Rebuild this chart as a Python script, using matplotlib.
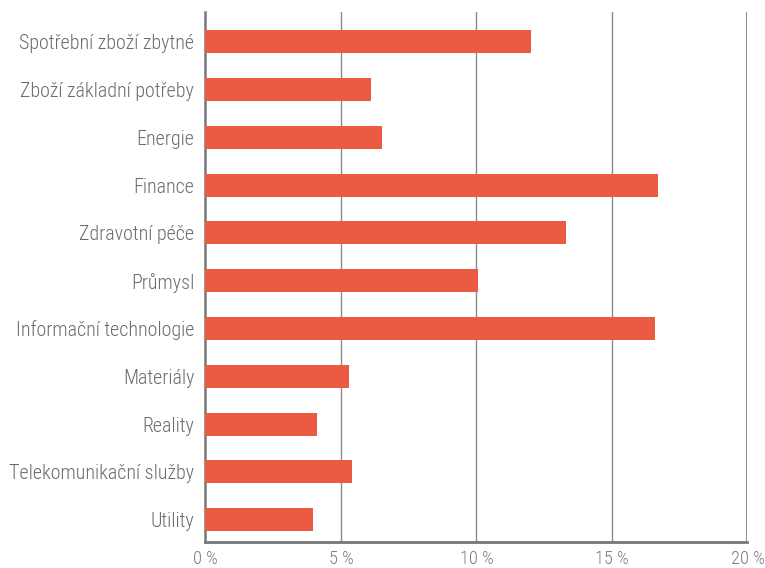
import matplotlib
matplotlib.use("Agg")
import matplotlib.pyplot as plt
from matplotlib import font_manager as fm
import numpy as np

# data (share of sectors, %)
sectors = ["Spotřební zboží zbytné", "Zboží základní potřeby", "Energie", "Finance",
           "Zdravotní péče", "Průmysl", "Informační technologie", "Materiály",
           "Reality", "Telekomunikační služby", "Utility"]
weights = [12.0, 6.1, 6.5, 16.7, 13.3, 10.05, 16.6, 5.3, 4.1, 5.4, 3.95]
xticks = [0, 5, 10, 15, 20]
xlabels = ["0 %", "5 %", "10 %", "15 %", "20 %"]

# reference uses a light condensed grotesque; take the closest installed face
def rank(f):
    fn = f.fname.lower()
    if "condensed" not in fn or "semicondensed" in fn or "italic" in fn or "oblique" in fn:
        return None
    w = f.weight if isinstance(f.weight, int) else 400
    if w < 300 or w > 400:
        return None
    light = 0 if w == 300 else 1
    if "roboto" in fn:
        return 0 + light
    if "notosans" in fn.replace(" ", "").replace("-", "") and "display" not in fn:
        return 2 + light
    return 4 + light

best = None
for f in fm.fontManager.ttflist:
    k = rank(f)
    if k is not None and (best is None or k < best[0]):
        best = (k, f)
if best is not None:
    f = best[1]
    plt.rcParams["font.family"] = [f.name, "DejaVu Sans"]
    plt.rcParams["font.stretch"] = f.stretch
    plt.rcParams["font.weight"] = f.weight
else:
    plt.rcParams["font.family"] = ["Roboto", "DejaVu Sans"]

fig = plt.figure(figsize=(7.65, 5.68), dpi=100)
ax = fig.add_axes([0.2686, 0.0463, 0.7085, 0.9326])

y = np.arange(len(sectors))
ax.barh(y, weights, height=0.48, color="#EB5B41", zorder=3)

ax.set_xlim(0, 20)
ax.set_ylim(10.46, -0.62)
ax.set_yticks(y)
ax.set_yticklabels(sectors, color="#6b6b6b")
ax.set_xticks(xticks)
ax.set_xticklabels(xlabels, color="#7a7a7a")
ax.tick_params(axis="both", length=0)
ax.tick_params(axis="y", pad=8)
ax.tick_params(axis="x", pad=6)

# size the labels so the longest one is as wide as in the reference (~186 px)
r = fig.canvas.get_renderer()
t = ax.text(0, 0, "Telekomunikační služby", fontsize=10)
w10 = t.get_window_extent(r).width
t.remove()
ysize = min(10 * 186 / w10, 17)
for lab in ax.get_yticklabels():
    lab.set_fontsize(ysize)
t = ax.text(0, 0, "20 %", fontsize=10)
w10 = t.get_window_extent(r).width
t.remove()
xsize = min(10 * 34 / w10, 14)
for lab in ax.get_xticklabels():
    lab.set_fontsize(xsize)

# vertical grid
for v in xticks[1:-1]:
    ax.axvline(v, color="#8a8a8a", lw=1.0, zorder=1)
ax.axvline(20, color="#8f8f8f", lw=2.2, zorder=1)

for s in ["top", "right"]:
    ax.spines[s].set_visible(False)
ax.spines["left"].set_color("#777777")
ax.spines["left"].set_linewidth(1.8)
ax.spines["bottom"].set_color("#777777")
ax.spines["bottom"].set_linewidth(2.0)

plt.savefig("out.png", dpi=100)
